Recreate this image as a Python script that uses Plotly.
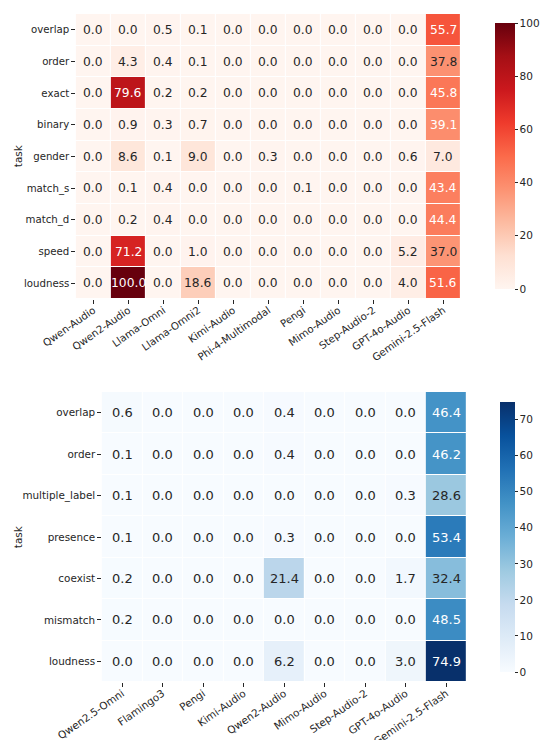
import plotly.graph_objects as go

# ---- top panel data ----
top_models = ["Qwen-Audio", "Qwen2-Audio", "Llama-Omni", "Llama-Omni2", "Kimi-Audio",
              "Phi-4-Multimodal", "Pengi", "Mimo-Audio", "Step-Audio-2", "GPT-4o-Audio",
              "Gemini-2.5-Flash"]
top_tasks = ["overlap", "order", "exact", "binary", "gender", "match_s", "match_d",
             "speed", "loudness"]
top_values = [
    [0.0, 0.0, 0.5, 0.1, 0.0, 0.0, 0.0, 0.0, 0.0, 0.0, 55.7],
    [0.0, 4.3, 0.4, 0.1, 0.0, 0.0, 0.0, 0.0, 0.0, 0.0, 37.8],
    [0.0, 79.6, 0.2, 0.2, 0.0, 0.0, 0.0, 0.0, 0.0, 0.0, 45.8],
    [0.0, 0.9, 0.3, 0.7, 0.0, 0.0, 0.0, 0.0, 0.0, 0.0, 39.1],
    [0.0, 8.6, 0.1, 9.0, 0.0, 0.3, 0.0, 0.0, 0.0, 0.6, 7.0],
    [0.0, 0.1, 0.4, 0.0, 0.0, 0.0, 0.1, 0.0, 0.0, 0.0, 43.4],
    [0.0, 0.2, 0.4, 0.0, 0.0, 0.0, 0.0, 0.0, 0.0, 0.0, 44.4],
    [0.0, 71.2, 0.0, 1.0, 0.0, 0.0, 0.0, 0.0, 0.0, 5.2, 37.0],
    [0.0, 100.0, 0.0, 18.6, 0.0, 0.0, 0.0, 0.0, 0.0, 4.0, 51.6],
]

# ---- bottom panel data ----
bot_models = ["Qwen2.5-Omni", "Flamingo3", "Pengi", "Kimi-Audio", "Qwen2-Audio",
              "Mimo-Audio", "Step-Audio-2", "GPT-4o-Audio", "Gemini-2.5-Flash"]
bot_tasks = ["overlap", "order", "multiple_label", "presence", "coexist", "mismatch",
             "loudness"]
bot_values = [
    [0.6, 0.0, 0.0, 0.0, 0.4, 0.0, 0.0, 0.0, 46.4],
    [0.1, 0.0, 0.0, 0.0, 0.4, 0.0, 0.0, 0.0, 46.2],
    [0.1, 0.0, 0.0, 0.0, 0.0, 0.0, 0.0, 0.3, 28.6],
    [0.1, 0.0, 0.0, 0.0, 0.3, 0.0, 0.0, 0.0, 53.4],
    [0.2, 0.0, 0.0, 0.0, 21.4, 0.0, 0.0, 1.7, 32.4],
    [0.2, 0.0, 0.0, 0.0, 0.0, 0.0, 0.0, 0.0, 48.5],
    [0.0, 0.0, 0.0, 0.0, 6.2, 0.0, 0.0, 3.0, 74.9],
]

W, H = 550, 740
DARK = "#262626"
FONT = "DejaVu Sans"


def px_x(p):
    return p / W


def px_y(p):
    return 1 - p / H


fig = go.Figure()

bot_max = max(max(r) for r in bot_values)

fig.add_trace(go.Heatmap(
    z=top_values, x=top_models, y=top_tasks, colorscale="Reds", zmin=0, zmax=100,
    xgap=1, ygap=1, hoverongaps=False, xaxis="x", yaxis="y",
    colorbar=dict(x=px_x(505), xanchor="left", thickness=20, thicknessmode="pixels",
                  len=(299 - 13) / H, lenmode="fraction", y=px_y(13), yanchor="top",
                  outlinewidth=0, ticks="outside", ticklen=3, tickwidth=0.8,
                  tickcolor=DARK, tickvals=[0, 20, 40, 60, 80, 100],
                  tickfont=dict(family=FONT, size=10.5, color=DARK)),
))

fig.add_trace(go.Heatmap(
    z=bot_values, x=bot_models, y=bot_tasks, colorscale="Blues", zmin=0, zmax=bot_max,
    xgap=1, ygap=1, hoverongaps=False, xaxis="x2", yaxis="y2",
    colorbar=dict(x=px_x(510), xanchor="left", thickness=15, thicknessmode="pixels",
                  len=(682 - 392) / H, lenmode="fraction", y=px_y(392), yanchor="top",
                  outlinewidth=0, ticks="outside", ticklen=3, tickwidth=0.8,
                  tickcolor=DARK, tickvals=[0, 10, 20, 30, 40, 50, 60, 70],
                  tickfont=dict(family=FONT, size=10.5, color=DARK)),
))

annotations = []


def cell_labels(values, models, tasks, vmax, cut, xref, yref, size):
    for i, row in enumerate(values):
        for j, v in enumerate(row):
            annotations.append(dict(
                x=models[j], y=tasks[i], xref=xref, yref=yref, text=f"{v:.1f}",
                showarrow=False,
                font=dict(family=FONT, size=size,
                          color="white" if v / vmax > cut else DARK),
            ))


cell_labels(top_values, top_models, top_tasks, 100, 0.385, "x", "y", 12.3)
cell_labels(bot_values, bot_models, bot_tasks, bot_max, 0.5, "x2", "y2", 13)

for ypix in (156, 537):
    annotations.append(dict(
        x=px_x(19), y=px_y(ypix), xref="paper", yref="paper", text="task",
        textangle=-90, showarrow=False, xanchor="center", yanchor="middle",
        font=dict(family=FONT, size=10.5, color=DARK),
    ))

axis_common = dict(showgrid=False, zeroline=False, showline=False, ticks="outside",
                   ticklen=3.5, tickwidth=0.8, tickcolor=DARK, automargin=False)

fig.update_layout(
    width=W, height=H, margin=dict(l=0, r=0, t=0, b=0),
    paper_bgcolor="white", plot_bgcolor="white",
    annotations=annotations,
    xaxis=dict(domain=[px_x(79), px_x(480)], anchor="y", tickangle=-35,
               ticklabelstandoff=-3,
               tickfont=dict(family=FONT, size=10.2, color=DARK), **axis_common),
    yaxis=dict(domain=[px_y(299), px_y(14)], anchor="x", autorange="reversed",
               tickfont=dict(family=FONT, size=10.2, color=DARK), **axis_common),
    xaxis2=dict(domain=[px_x(106), px_x(486)], anchor="y2", tickangle=-35,
                ticklabelstandoff=-3,
                tickfont=dict(family=FONT, size=10.4, color=DARK), **axis_common),
    yaxis2=dict(domain=[px_y(682), px_y(392)], anchor="x2", autorange="reversed",
                tickfont=dict(family=FONT, size=10.4, color=DARK), **axis_common),
)

fig.write_html("out.html")
